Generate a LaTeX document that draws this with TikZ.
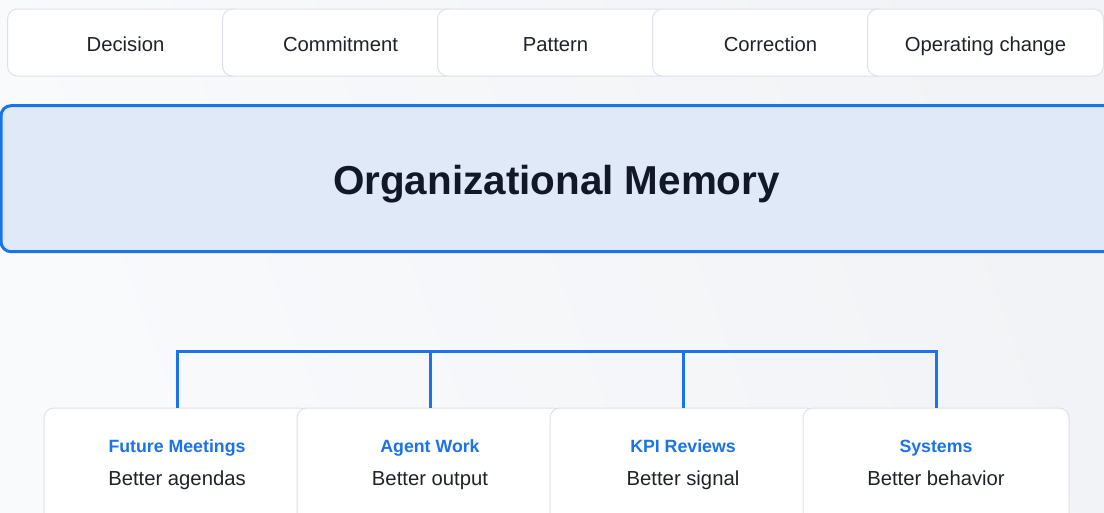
\documentclass[tikz,border=0pt]{standalone}
\usepackage{fontspec}
\setmainfont{Liberation Sans}
\usetikzlibrary{calc}
\definecolor{ink}{HTML}{1F2329}
\definecolor{titleink}{HTML}{111827}
\definecolor{chipline}{HTML}{DDE2EA}
\definecolor{brand}{HTML}{1A73E8}
\definecolor{bandfill}{HTML}{DFE9F7}
\definecolor{bgA}{HTML}{F9FAFC}
\definecolor{bgB}{HTML}{F1F3F6}
\begin{document}
\begin{tikzpicture}[x=0.75pt,y=-0.75pt,
  chip/.style={draw=chipline, line width=0.75pt, fill=white, rounded corners=7.5pt,
    minimum width=177pt, minimum height=50.25pt, inner sep=0pt,
    text height=13.5pt, text depth=0pt,
    font=\fontsize{15.2pt}{18pt}\selectfont, text=ink},
  band/.style={draw=brand, line width=2.25pt, fill=bandfill, rounded corners=7.5pt,
    minimum width=838.5pt, minimum height=109.5pt, inner sep=0pt},
  card/.style={draw=chipline, line width=0.75pt, fill=white, rounded corners=7.5pt,
    minimum width=199.5pt, minimum height=91.5pt, inner sep=0pt},
  wire/.style={draw=brand, line width=2.25pt},
  head/.style={font=\bfseries\fontsize{13.3pt}{16pt}\selectfont, text=brand, inner sep=0pt, anchor=base},
  sub/.style={font=\fontsize{15.2pt}{18pt}\selectfont, text=ink, inner sep=0pt, anchor=base},
  title/.style={font=\bfseries\fontsize{30.3pt}{36pt}\selectfont, text=titleink, inner sep=0pt, anchor=base}]
\useasboundingbox (0,0) rectangle (1104,512);
\begin{scope}
\clip (0,0) rectangle (1104,512);
% page background
\shade[left color=bgA, right color=bgB, shading angle=110]
  (0,0) rectangle (1104,512);

% inputs along the top
\node[chip] (c1) at (125.5,42.5) {Decision};
\node[chip] (c2) at (340.5,42.5) {Commitment};
\node[chip] (c3) at (555.5,42.5) {Pattern};
\node[chip] (c4) at (770.5,42.5) {Correction};
\node[chip] (c5) at (985.5,42.5) {Operating change};

% central memory band
\node[band] (mem) at (560,178.7) {};
\node[title] (memtitle) at (556.5,194.5) {Organizational Memory};

% consumers
\node[card] (k1) at (177,469) {};
\node[card] (k2) at (430,469) {};
\node[card] (k3) at (683,469) {};
\node[card] (k4) at (936,469) {};

% distribution bus
\coordinate (hub) at (557,351);
\draw[wire] (hub) -| (k1.north);
\draw[wire] (hub) -| (k2.north);
\draw[wire] (hub) -| (k3.north);
\draw[wire] (hub) -| (k4.north);

\node[head] (h1) at ($(k1.north)+(0,45)$) {Future Meetings};
\node[sub]  (s1) at ($(k1.north)+(0,78)$) {Better agendas};
\node[head] (h2) at ($(k2.north)+(0,45)$) {Agent Work};
\node[sub]  (s2) at ($(k2.north)+(0,78)$) {Better output};
\node[head] (h3) at ($(k3.north)+(0,45)$) {KPI Reviews};
\node[sub]  (s3) at ($(k3.north)+(0,78)$) {Better signal};
\node[head] (h4) at ($(k4.north)+(0,45)$) {Systems};
\node[sub]  (s4) at ($(k4.north)+(0,78)$) {Better behavior};
\end{scope}
\end{tikzpicture}
\end{document}
